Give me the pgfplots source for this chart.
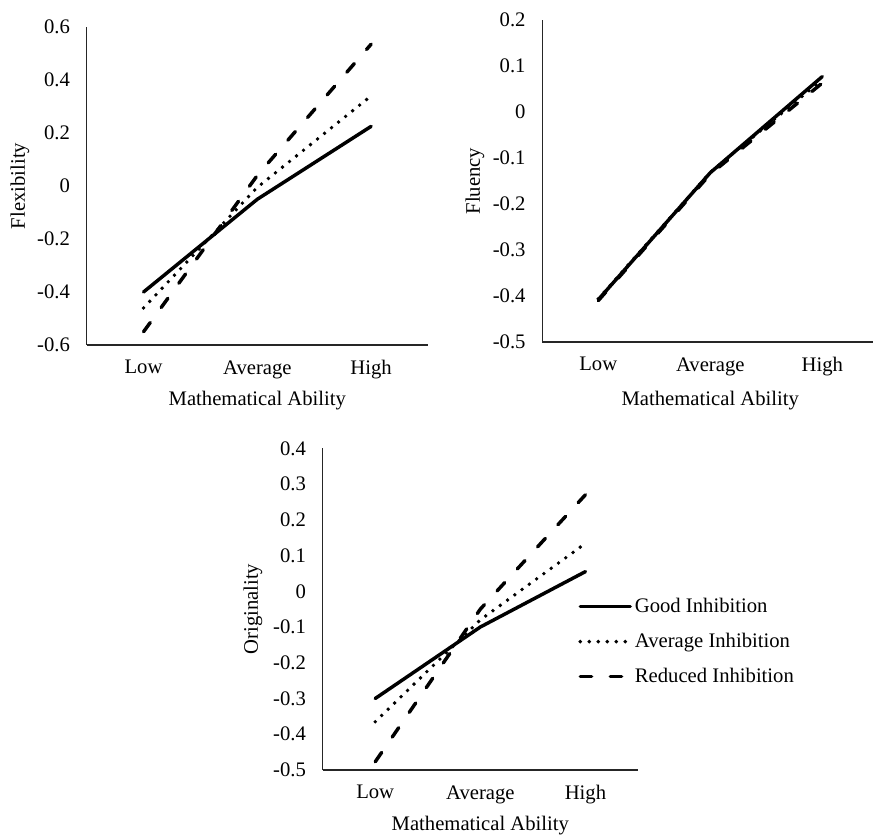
\documentclass[border=0pt]{standalone}
\usepackage{fontspec}
\setmainfont{Liberation Serif}
\usepackage{pgfplots}
\pgfplotsset{compat=1.18}
\newcommand{\fs}{\fontsize{15.5pt}{18pt}\selectfont}
\pgfplotsset{
 myaxis/.style={
  scale only axis, anchor=south west,
  xmin=-0.5, xmax=2.5,
  axis x line*=bottom, axis y line*=left,
  axis line style={-, line width=0.9pt, black!85},
  xtick={0,1,2}, xticklabels={Low,Average,High},
  major tick length=0pt,
  tick label style={font=\fs, black},
  xticklabel style={yshift=-8pt},
  yticklabel style={xshift=-9pt},
  label style={font=\fs},
  xlabel={Mathematical Ability},
  clip=false,
 },
 good/.style={black, line width=2.6pt, line cap=round, line join=round},
 avgi/.style={black, line width=2.9pt, line cap=round, line join=round, dash pattern=on 0pt off 6.75pt},
 redi/.style={black, line width=2.6pt, line cap=round, line join=round, dash pattern=on 8.5pt off 14pt},
}
\begin{document}
\begin{tikzpicture}
% Flexibility
\begin{axis}[myaxis, at={(65pt,366.75pt)}, width=256pt, height=238.5pt,
  ymin=-0.6, ymax=0.6,
  ytick={-0.6,-0.4,-0.2,0,0.2,0.4,0.6},
  yticklabels={-0.6,-0.4,-0.2,0,0.2,0.4,0.6},
  ylabel={Flexibility},
  ylabel style={at={(axis description cs:-0.1954,0.5)}, anchor=center},
  xlabel style={at={(axis description cs:0.5,-0.1918)}, anchor=base}]
\addplot[good] coordinates {(0,-0.40) (1,-0.05) (2,0.225)};
\addplot[avgi] coordinates {(0,-0.46) (1,-0.005) (2,0.34)};
\addplot[redi] coordinates {(0,-0.55) (1,0.04) (2,0.535)};
\end{axis}
% Fluency
\begin{axis}[myaxis, at={(406.7pt,369pt)}, width=252pt, height=241.5pt,
  ymin=-0.5, ymax=0.2,
  ytick={-0.5,-0.4,-0.3,-0.2,-0.1,0,0.1,0.2},
  yticklabels={-0.5,-0.4,-0.3,-0.2,-0.1,0,0.1,0.2},
  ylabel={Fluency},
  ylabel style={at={(axis description cs:-0.2005,0.5)}, anchor=center},
  xlabel style={at={(axis description cs:0.5,-0.1957)}, anchor=base}]
\addplot[good] coordinates {(0,-0.408) (1,-0.132) (2,0.077)};
\addplot[avgi] coordinates {(0,-0.406) (1,-0.131) (2,0.070)};
\addplot[redi] coordinates {(0,-0.410) (1,-0.135) (2,0.063)};
\end{axis}
% Originality
\begin{axis}[myaxis, at={(242pt,48pt)}, width=236.5pt, height=241.3pt,
  ymin=-0.5, ymax=0.4,
  ytick={-0.5,-0.4,-0.3,-0.2,-0.1,0,0.1,0.2,0.3,0.4},
  yticklabels={-0.5,-0.4,-0.3,-0.2,-0.1,0,0.1,0.2,0.3,0.4},
  ylabel={Originality},
  ylabel style={at={(axis description cs:-0.221,0.5)}, anchor=center},
  xlabel style={at={(axis description cs:0.5,-0.1865)}, anchor=base},
  legend style={at={(axis description cs:0.81,0.399)}, anchor=west, draw=none, fill=none,
    font=\fs, row sep=10pt, inner sep=0pt},
  legend cell align=left,
  legend image code/.code={\draw[#1] (0pt,0pt) -- (37.5pt,0pt);}]
\addplot[good] coordinates {(0,-0.30) (1,-0.10) (2,0.055)};
\addlegendentry{Good Inhibition}
\addplot[avgi] coordinates {(0,-0.365) (1,-0.08) (2,0.134)};
\addlegendentry{Average Inhibition}
\addplot[redi] coordinates {(0,-0.477) (1,-0.05) (2,0.27)};
\addlegendentry{Reduced Inhibition}
\end{axis}
\pgfresetboundingbox
\path[use as bounding box] (0,0) rectangle (654.75pt,625.5pt);
\end{tikzpicture}
\end{document}
